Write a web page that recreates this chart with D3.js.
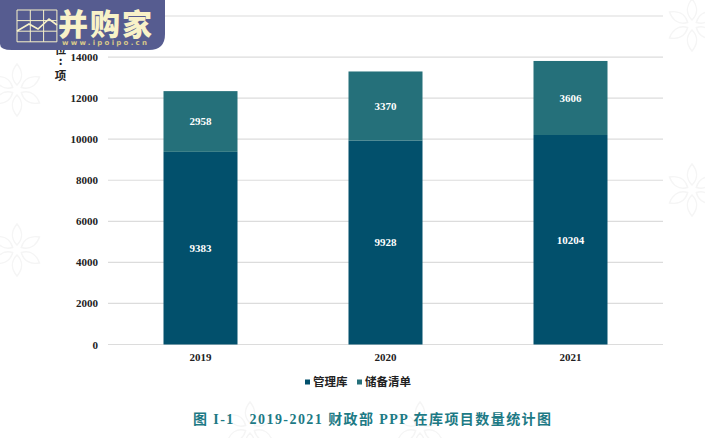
<!DOCTYPE html>
<html>
<head>
<meta charset="utf-8">
<script src="https://cdnjs.cloudflare.com/ajax/libs/d3/7.8.5/d3.min.js"></script>
<style>
  body { margin: 0; background: #fff; }
  text { font-family: "Liberation Serif", "Noto Sans CJK SC", serif; }
</style>
</head>
<body>
<svg width="705" height="438"></svg>
<script>
// Chart data
var years = ["2019", "2020", "2021"];
var managed = [9383, 9928, 10204];
var reserve = [2958, 3370, 3606];
var seriesNames = ["管理库", "储备清单"];
var yTicks = [0, 2000, 4000, 6000, 8000, 10000, 12000, 14000, 16000];

var colors = ["#02506c", "#25707a"];
var cjk = '"Noto Sans CJK SC", sans-serif';

var svg = d3.select("svg");

// Faint watermark leaves
var leafSpots = [[17, 90], [17, 250], [692, 25], [692, 190], [250, 428], [420, 428]];
var marks = svg.append("g").attr("fill", "none").attr("stroke", "#f5f5f5").attr("stroke-width", 1.5);
leafSpots.forEach(function (p) {
  d3.range(6).forEach(function (i) {
    marks.append("path")
      .attr("transform", "translate(" + p[0] + "," + p[1] + ") rotate(" + i * 60 + ")")
      .attr("d", "M0,-5 C-7,-12 -5,-20 0,-26 C5,-20 7,-12 0,-5Z");
  });
});

// Scales
var x = d3.scaleBand().domain(years).range([108, 663]).paddingInner(0.6).paddingOuter(0.3);
var y = d3.scaleLinear().domain([0, 16000]).range([344.5, 16]);

// Gridlines
svg.append("g")
  .selectAll("line")
  .data(yTicks)
  .enter()
  .append("line")
  .attr("x1", 108)
  .attr("x2", 663)
  .attr("y1", (d) => y(d))
  .attr("y2", (d) => y(d))
  .attr("stroke", "#dcdcdc")
  .attr("stroke-width", 1.2);

// Y axis labels
var yAxis = svg.append("g")
  .attr("transform", "translate(108,0)")
  .call(d3.axisLeft(y).tickValues(yTicks).tickFormat(d3.format("d")).tickSize(0).tickPadding(10));
yAxis.select(".domain").remove();
yAxis.selectAll("text")
  .style("font-family", '"Liberation Serif", serif')
  .style("font-size", "11px")
  .style("font-weight", "bold")
  .attr("fill", "#222");

// X axis labels
var xAxis = svg.append("g")
  .attr("transform", "translate(0,344.5)")
  .call(d3.axisBottom(x).tickSize(0).tickPadding(9));
xAxis.select(".domain").remove();
xAxis.selectAll("text")
  .style("font-family", '"Liberation Serif", serif')
  .style("font-size", "11px")
  .style("font-weight", "bold")
  .attr("fill", "#222");

// Stacked bars
var rows = years.map((d, i) => ({ year: d, a: managed[i], b: reserve[i] }));
var bars = svg.append("g").selectAll("g").data(rows).enter().append("g");

bars.append("rect")
  .attr("x", (d) => x(d.year))
  .attr("width", x.bandwidth())
  .attr("y", (d) => y(d.a))
  .attr("height", (d) => y(0) - y(d.a))
  .attr("fill", colors[0]);

bars.append("rect")
  .attr("x", (d) => x(d.year))
  .attr("width", x.bandwidth())
  .attr("y", (d) => y(d.a + d.b))
  .attr("height", (d) => y(d.a) - y(d.a + d.b))
  .attr("fill", colors[1]);

// Value labels
var valueLabel = function (sel, yPos, txt) {
  sel.append("text")
    .attr("x", (d) => x(d.year) + x.bandwidth() / 2)
    .attr("y", yPos)
    .attr("text-anchor", "middle")
    .attr("dy", "0.35em")
    .attr("fill", "#fff")
    .style("font-size", "11px")
    .style("font-weight", "bold")
    .text(txt);
};
valueLabel(bars, (d) => y(d.a / 2), (d) => d.a);
valueLabel(bars, (d) => y(d.a + d.b / 2), (d) => d.b);

// Legend
var legendX = [305, 357];
var legend = svg.append("g").selectAll("g").data(seriesNames).enter().append("g")
  .attr("transform", (d, i) => "translate(" + legendX[i] + ",382)");
legend.append("rect")
  .attr("y", -2.5)
  .attr("width", 5)
  .attr("height", 5)
  .attr("fill", (d, i) => colors[i]);
legend.append("text")
  .attr("x", 8)
  .attr("dy", "0.35em")
  .attr("fill", "#222")
  .style("font-family", cjk)
  .style("font-size", "11.5px")
  .style("font-weight", "700")
  .text((d) => d);

// Caption
svg.append("text")
  .attr("x", 193)
  .attr("y", 424)
  .attr("fill", "#1d7a85")
  .style("font-family", '"Liberation Serif", "Noto Sans CJK SC", serif')
  .style("font-size", "14px")
  .style("font-weight", "bold")
  .style("white-space", "pre")
  .attr("textLength", 358)
  .attr("lengthAdjust", "spacing")
  .text("图 I-1   2019-2021 财政部 PPP 在库项目数量统计图");

// Vertical unit label, partly under the logo
var unitChars = ["单", "位", ":", "项"];
var unitBaselines = [40, 54, 65, 80];
svg.append("g")
  .selectAll("text")
  .data(unitChars)
  .enter()
  .append("text")
  .attr("x", 60.5)
  .attr("y", (d, i) => unitBaselines[i])
  .attr("text-anchor", "middle")
  .attr("fill", "#222")
  .style("font-family", cjk)
  .style("font-size", "11.5px")
  .style("font-weight", "700")
  .text((d) => d);

// Logo badge
var logo = svg.append("g");
logo.append("path")
  .attr("d", "M0,0H165V34Q165,50 149,50H12Q0,50 0,44Z")
  .attr("fill", "#565c90");

var cream = "#f8f2c8";
var gridX = d3.range(0, 4).map((i) => 17 + i * 13.3);
var gridY = d3.range(0, 4).map((i) => 10 + i * 10.6);
logo.selectAll(".vl").data(gridX).enter().append("line")
  .attr("x1", (d) => d).attr("x2", (d) => d).attr("y1", 10).attr("y2", 41.8)
  .attr("stroke", cream).attr("stroke-width", 1);
logo.selectAll(".hl").data(gridY).enter().append("line")
  .attr("x1", 17).attr("x2", 56.9).attr("y1", (d) => d).attr("y2", (d) => d)
  .attr("stroke", cream).attr("stroke-width", 1);
logo.append("path")
  .attr("d", "M17,31L29,24L38,29L49,19L57,25")
  .attr("fill", "none")
  .attr("stroke", cream)
  .attr("stroke-width", 1.6);
logo.append("text")
  .attr("x", 58)
  .attr("y", 35)
  .attr("fill", cream)
  .style("font-family", cjk)
  .style("font-size", "30px")
  .style("font-weight", "900")
  .attr("textLength", 94)
  .attr("lengthAdjust", "spacing")
  .text("并购家");
logo.append("text")
  .attr("x", 62)
  .attr("y", 45)
  .attr("fill", "#d9c98a")
  .style("font-family", '"DejaVu Sans", sans-serif')
  .style("font-size", "7px")
  .style("font-weight", "bold")
  .attr("textLength", 85)
  .text("www.ipoipo.cn");
</script>
</body>
</html>
